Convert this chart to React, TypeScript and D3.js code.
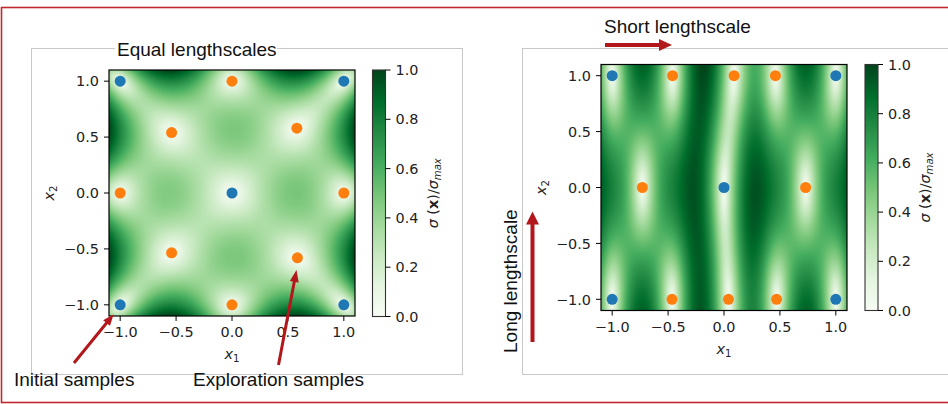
import React, { useMemo } from "react";
import * as d3 from "d3";

// Axis ticks
const AXIS_TICKS = [-1, -0.5, 0, 0.5, 1];
const CBAR_TICKS = [0, 0.2, 0.4, 0.6, 0.8, 1];
const DOMAIN: [number, number] = [-1.1, 1.1];

// Matplotlib "Greens" colormap anchors
const GREENS = ["#f7fcf5", "#e5f5e0", "#c7e9c0", "#a1d99b", "#74c476", "#41ab5d", "#238b45", "#006d2c", "#00441b"];

// Initial design (same for both panels)
const initialX1 = [-1, 1, 0, -1, 1];
const initialX2 = [1, 1, 0, -1, -1];

// Exploration samples, equal lengthscales
const equalExploreX1 = [0, -0.54, 0.58, -1, 1, -0.54, 0.585, 0];
const equalExploreX2 = [1, 0.54, 0.58, 0, 0, -0.535, -0.58, -1];

// Exploration samples, short x1 / long x2 lengthscale
const anisoExploreX1 = [-0.46, 0.09, 0.46, -0.73, 0.73, -0.465, 0.04, 0.47];
const anisoExploreX2 = [1, 1, 1, 0, 0, -1, -1, -1];

// GP kernel lengthscales [x1, x2]
const equalLengthscales = [0.85, 0.85];
const anisoLengthscales = [0.2, 0.9];

const RED = "#b2171b";
const BLUE = "#1f77b4";
const ORANGE = "#ff7f0e";
const SANS = "'Liberation Sans', Arial, sans-serif";
const MPL = "'DejaVu Sans', sans-serif";

const fmt = (v: number) => d3.format(".1f")(v);

const greens = d3
  .scaleLinear<string>()
  .domain(GREENS.map((_, i) => i / (GREENS.length - 1)))
  .range(GREENS)
  .interpolate(d3.interpolateRgb)
  .clamp(true);

// Normalised posterior standard deviation of an RBF-kernel GP on an n x n grid
function posteriorStd(px: number[], py: number[], ls: number[], n: number): Float64Array {
  const m = px.length;
  const kern = (ax: number, ay: number, bx: number, by: number) =>
    Math.exp(-0.5 * (((ax - bx) / ls[0]) ** 2 + ((ay - by) / ls[1]) ** 2));
  const K: number[][] = [];
  for (let i = 0; i < m; i++) {
    K.push([]);
    for (let j = 0; j < m; j++) K[i].push(kern(px[i], py[i], px[j], py[j]) + (i === j ? 1e-6 : 0));
  }
  const L: number[][] = K.map(() => new Array(m).fill(0));
  for (let i = 0; i < m; i++) {
    for (let j = 0; j <= i; j++) {
      let s = K[i][j];
      for (let k = 0; k < j; k++) s -= L[i][k] * L[j][k];
      L[i][j] = i === j ? Math.sqrt(Math.max(s, 1e-12)) : s / L[j][j];
    }
  }
  const [lo, hi] = DOMAIN;
  const out = new Float64Array(n * n);
  const v = new Array(m).fill(0);
  let max = 0;
  for (let r = 0; r < n; r++) {
    const y = hi - ((r + 0.5) * (hi - lo)) / n;
    for (let c = 0; c < n; c++) {
      const x = lo + ((c + 0.5) * (hi - lo)) / n;
      let ss = 0;
      for (let i = 0; i < m; i++) {
        let s = kern(x, y, px[i], py[i]);
        for (let k = 0; k < i; k++) s -= L[i][k] * v[k];
        v[i] = s / L[i][i];
        ss += v[i] * v[i];
      }
      const sd = Math.sqrt(Math.max(1 - ss, 0));
      out[r * n + c] = sd;
      if (sd > max) max = sd;
    }
  }
  for (let i = 0; i < out.length; i++) out[i] /= max;
  return out;
}

function fieldImage(values: Float64Array, n: number): string {
  const canvas = document.createElement("canvas");
  canvas.width = n;
  canvas.height = n;
  const ctx = canvas.getContext("2d")!;
  const img = ctx.createImageData(n, n);
  const lut = d3.range(256).map((i) => d3.rgb(greens(i / 255)));
  for (let i = 0; i < values.length; i++) {
    const c = lut[Math.round(Math.min(1, Math.max(0, values[i])) * 255)];
    img.data[i * 4] = c.r;
    img.data[i * 4 + 1] = c.g;
    img.data[i * 4 + 2] = c.b;
    img.data[i * 4 + 3] = 255;
  }
  ctx.putImageData(img, 0, 0);
  return canvas.toDataURL();
}

function colorbarImage(): string {
  const canvas = document.createElement("canvas");
  canvas.width = 1;
  canvas.height = 256;
  const ctx = canvas.getContext("2d")!;
  for (let i = 0; i < 256; i++) {
    ctx.fillStyle = greens(1 - i / 255);
    ctx.fillRect(0, i, 1, 1);
  }
  return canvas.toDataURL();
}

type Box = { x0: number; x1: number; y0: number; y1: number };

function Arrow({ from, to, width, headLen, headWidth }: { from: [number, number]; to: [number, number]; width: number; headLen: number; headWidth: number }) {
  const dx = to[0] - from[0];
  const dy = to[1] - from[1];
  const len = Math.hypot(dx, dy);
  const ux = dx / len;
  const uy = dy / len;
  const nx = -uy;
  const ny = ux;
  const bx = to[0] - ux * headLen;
  const by = to[1] - uy * headLen;
  const pts: [number, number][] = [
    [from[0] + (nx * width) / 2, from[1] + (ny * width) / 2],
    [bx + (nx * width) / 2, by + (ny * width) / 2],
    [bx + (nx * headWidth) / 2, by + (ny * headWidth) / 2],
    to,
    [bx - (nx * headWidth) / 2, by - (ny * headWidth) / 2],
    [bx - (nx * width) / 2, by - (ny * width) / 2],
    [from[0] - (nx * width) / 2, from[1] - (ny * width) / 2],
  ];
  return <path d={d3.line()(pts)! + "Z"} fill={RED} />;
}

function HeatPanel({
  plot,
  cbar,
  exploreX1,
  exploreX2,
  lengthscales,
}: {
  plot: Box;
  cbar: Box;
  exploreX1: number[];
  exploreX2: number[];
  lengthscales: number[];
}) {
  const n = 220;
  const href = useMemo(() => {
    const px = [...initialX1, ...exploreX1];
    const py = [...initialX2, ...exploreX2];
    return fieldImage(posteriorStd(px, py, lengthscales, n), n);
  }, [exploreX1, exploreX2, lengthscales]);
  const cbarHref = useMemo(() => colorbarImage(), []);

  const x = d3.scaleLinear().domain(DOMAIN).range([plot.x0, plot.x1]);
  const y = d3.scaleLinear().domain(DOMAIN).range([plot.y1, plot.y0]);
  const cy = d3.scaleLinear().domain([0, 1]).range([cbar.y1, cbar.y0]);
  const tick = 5;
  const fs = 14.4;

  return (
    <g>
      <image href={href} x={plot.x0} y={plot.y0} width={plot.x1 - plot.x0} height={plot.y1 - plot.y0} preserveAspectRatio="none" />
      {exploreX1.map((v, i) => (
        <circle key={"e" + i} cx={x(v)} cy={y(exploreX2[i])} r={5.5} fill={ORANGE} />
      ))}
      {initialX1.map((v, i) => (
        <circle key={"i" + i} cx={x(v)} cy={y(initialX2[i])} r={5.5} fill={BLUE} />
      ))}
      <rect x={plot.x0} y={plot.y0} width={plot.x1 - plot.x0} height={plot.y1 - plot.y0} fill="none" stroke="#000" strokeWidth={1.2} />
      {AXIS_TICKS.map((t) => (
        <g key={"x" + t}>
          <line x1={x(t)} x2={x(t)} y1={plot.y1} y2={plot.y1 + tick} stroke="#000" strokeWidth={1} />
          <text x={x(t)} y={plot.y1 + 21} textAnchor="middle" fontFamily={MPL} fontSize={fs} fill="#222">
            {fmt(t)}
          </text>
          <line x1={plot.x0 - tick} x2={plot.x0} y1={y(t)} y2={y(t)} stroke="#000" strokeWidth={1} />
          <text x={plot.x0 - 10} y={y(t)} dy="0.36em" textAnchor="end" fontFamily={MPL} fontSize={fs} fill="#222">
            {fmt(t)}
          </text>
        </g>
      ))}
      <text x={(plot.x0 + plot.x1) / 2} y={plot.y1 + 43} textAnchor="middle" fontFamily={MPL} fontSize={fs} fill="#222">
        <tspan fontStyle="italic">x</tspan>
        <tspan fontSize={fs * 0.7} dy={3}>1</tspan>
      </text>
      <text transform={`translate(${plot.x0 - 55},${(plot.y0 + plot.y1) / 2}) rotate(-90)`} textAnchor="middle" fontFamily={MPL} fontSize={fs} fill="#222">
        <tspan fontStyle="italic">x</tspan>
        <tspan fontSize={fs * 0.7} dy={3}>2</tspan>
      </text>

      <image href={cbarHref} x={cbar.x0} y={cbar.y0} width={cbar.x1 - cbar.x0} height={cbar.y1 - cbar.y0} preserveAspectRatio="none" />
      <rect x={cbar.x0} y={cbar.y0} width={cbar.x1 - cbar.x0} height={cbar.y1 - cbar.y0} fill="none" stroke="#333" strokeWidth={1.1} />
      {CBAR_TICKS.map((t) => (
        <g key={"c" + t}>
          <line x1={cbar.x1} x2={cbar.x1 + tick} y1={cy(t)} y2={cy(t)} stroke="#000" strokeWidth={1} />
          <text x={cbar.x1 + 10} y={cy(t)} dy="0.36em" fontFamily={MPL} fontSize={fs} fill="#222">
            {fmt(t)}
          </text>
        </g>
      ))}
      <text transform={`translate(${cbar.x1 + 52},${(cbar.y0 + cbar.y1) / 2}) rotate(-90)`} textAnchor="middle" fontFamily={MPL} fontSize={fs} fill="#222">
        <tspan fontStyle="italic">σ</tspan>
        <tspan> (</tspan>
        <tspan fontWeight="bold">x</tspan>
        <tspan>)/</tspan>
        <tspan fontStyle="italic">σ</tspan>
        <tspan fontStyle="italic" fontSize={fs * 0.7} dy={3}>max</tspan>
      </text>
    </g>
  );
}

export default function App() {
  return (
    <svg width={948} height={404} style={{ position: "absolute", left: 0, top: 0, background: "#fff" }}>
      <rect x={0} y={0} width={948} height={404} fill="#fff" />
      {/* outer frame */}
      <rect x={1.5} y={7.5} width={960} height={395} fill="none" stroke="#c0282e" strokeWidth={1.6} />
      {/* panel frames */}
      <rect x={31.5} y={48.5} width={431} height={326} fill="none" stroke="#c8c8c8" strokeWidth={1} />
      <rect x={522.5} y={48.5} width={440} height={326} fill="none" stroke="#c8c8c8" strokeWidth={1} />

      <HeatPanel
        plot={{ x0: 109, x1: 355, y0: 70, y1: 316 }}
        cbar={{ x0: 372.5, x1: 385.5, y0: 70, y1: 316.5 }}
        exploreX1={equalExploreX1}
        exploreX2={equalExploreX2}
        lengthscales={equalLengthscales}
      />
      <HeatPanel
        plot={{ x0: 601, x1: 847, y0: 64.5, y1: 310.5 }}
        cbar={{ x0: 865, x1: 878, y0: 64.5, y1: 310.5 }}
        exploreX1={anisoExploreX1}
        exploreX2={anisoExploreX2}
        lengthscales={anisoLengthscales}
      />

      {/* left panel title and annotations */}
      <rect x={115} y={40} width={162} height={18} fill="#fff" />
      <text x={117} y={56} fontFamily={SANS} fontSize={19} fill="#111">Equal lengthscales</text>
      <text x={14} y={386} fontFamily={SANS} fontSize={19} fill="#111">Initial samples</text>
      <text x={193} y={386} fontFamily={SANS} fontSize={19} fill="#111">Exploration samples</text>
      <Arrow from={[74, 363]} to={[113.5, 314.5]} width={3} headLen={11} headWidth={9} />
      <Arrow from={[278.5, 365]} to={[296.5, 270]} width={3} headLen={12} headWidth={9} />

      {/* right panel annotations */}
      <text x={604} y={33} fontFamily={SANS} fontSize={19} fill="#111">Short lengthscale</text>
      <Arrow from={[605, 45]} to={[672, 45]} width={4} headLen={13} headWidth={12} />
      <text transform="translate(517,353) rotate(-90)" fontFamily={SANS} fontSize={19} fill="#111">Long lengthscale</text>
      <Arrow from={[532.5, 342]} to={[532.5, 211.5]} width={4} headLen={13} headWidth={13} />
    </svg>
  );
}
